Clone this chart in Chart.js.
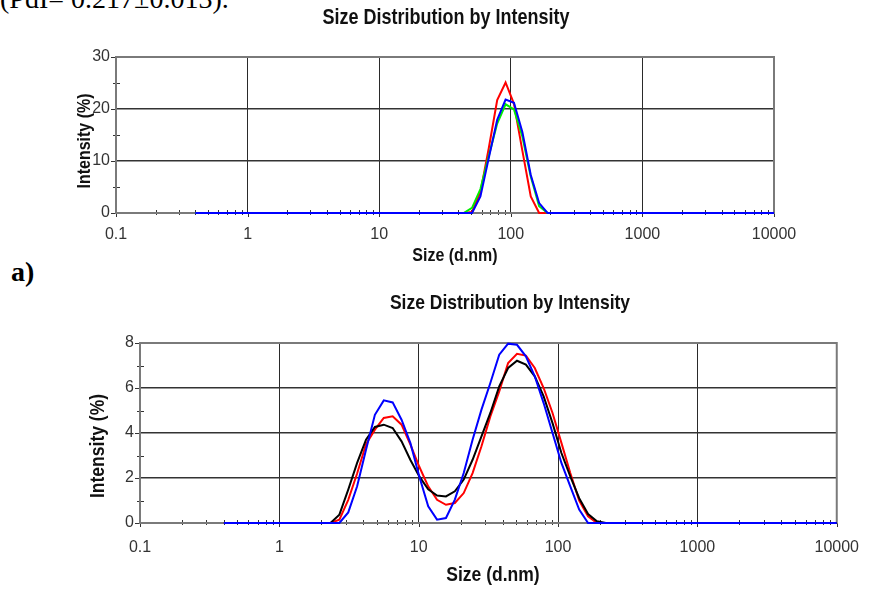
<!DOCTYPE html>
<html>
<head>
<meta charset="utf-8">
<script src="https://cdn.jsdelivr.net/npm/chart.js@4.4.1/dist/chart.umd.min.js"></script>
<style>
  body { margin: 0; width: 874px; height: 594px; background: #fff; position: relative; overflow: hidden; }
  .note { position: absolute; font-family: 'Liberation Serif', 'Times New Roman', serif; color: #000; white-space: nowrap; font-size: 28px; line-height: 28px; }
  #pdi { left: 0; top: -15px; }
  #lab { left: 11px; top: 258px; font-weight: bold; }
  canvas { position: absolute; left: 0; }
  #chartA { top: 0; }
  #chartB { top: 285px; }
</style>
</head>
<body>
<div class="note" id="pdi">(PdI= 0.217±0.013).</div>
<div class="note" id="lab">a)</div>
<canvas id="chartA" width="874" height="275"></canvas>
<canvas id="chartB" width="874" height="309"></canvas>
<script>
// size bins (d.nm), shared by both measurements
const sizes = [
  0.4, 0.4632, 0.5365, 0.6213, 0.7195, 0.8332, 0.9649, 1.117, 1.294, 1.499,
  1.736, 2.01, 2.328, 2.696, 3.122, 3.615, 4.187, 4.849, 5.615, 6.503,
  7.531, 8.721, 10.1, 11.7, 13.54, 15.69, 18.17, 21.04, 24.36, 28.21,
  32.67, 37.84, 43.82, 50.75, 58.77, 68.06, 78.82, 91.28, 105.7, 122.4,
  141.8, 164.2, 190.1, 220.2, 255, 295.3, 342, 396.1, 458.7, 531.2,
  615.1, 712.4, 825, 955.4, 1106, 1281, 1484, 1718, 1990, 2305,
  2669, 3091, 3580, 4145, 4801, 5560, 6439, 7456, 8635, 10000
];

// chart a) intensity (%)
const redA = [
  0, 0, 0, 0, 0, 0, 0, 0, 0, 0,
  0, 0, 0, 0, 0, 0, 0, 0, 0, 0,
  0, 0, 0, 0, 0, 0, 0, 0, 0, 0,
  0, 0, 0, 0.2, 4.0, 12.5, 21.7, 25.1, 21.0, 12.0,
  3.2, 0, 0, 0, 0, 0, 0, 0, 0, 0,
  0, 0, 0, 0, 0, 0, 0, 0, 0, 0,
  0, 0, 0, 0, 0, 0, 0, 0, 0, 0
];
const greenA = [
  0, 0, 0, 0, 0, 0, 0, 0, 0, 0,
  0, 0, 0, 0, 0, 0, 0, 0, 0, 0,
  0, 0, 0, 0, 0, 0, 0, 0, 0, 0,
  0, 0, 0, 1.0, 4.6, 11.0, 17.2, 20.9, 19.9, 14.7,
  7.0, 1.3, 0, 0, 0, 0, 0, 0, 0, 0,
  0, 0, 0, 0, 0, 0, 0, 0, 0, 0,
  0, 0, 0, 0, 0, 0, 0, 0, 0, 0
];
const blueA = [
  0, 0, 0, 0, 0, 0, 0, 0, 0, 0,
  0, 0, 0, 0, 0, 0, 0, 0, 0, 0,
  0, 0, 0, 0, 0, 0, 0, 0, 0, 0,
  0, 0, 0, 0, 3.2, 10.6, 17.9, 21.8, 21.2, 15.6,
  7.3, 1.9, 0, 0, 0, 0, 0, 0, 0, 0,
  0, 0, 0, 0, 0, 0, 0, 0, 0, 0,
  0, 0, 0, 0, 0, 0, 0, 0, 0, 0
];

// chart b) intensity (%)
const redB = [
  0, 0, 0, 0, 0, 0, 0, 0, 0, 0,
  0, 0, 0, 0.15, 1.03, 2.2, 3.5, 4.15, 4.67, 4.74,
  4.37, 3.48, 2.5, 1.63, 1.03, 0.81, 0.89, 1.33, 2.22, 3.41,
  4.74, 5.85, 7.11, 7.52, 7.44, 6.89, 6.0, 4.89, 3.56, 2.22,
  1.0, 0.3, 0, 0, 0, 0, 0, 0, 0, 0,
  0, 0, 0, 0, 0, 0, 0, 0, 0, 0,
  0, 0, 0, 0, 0, 0, 0, 0, 0, 0
];
const blackB = [
  0, 0, 0, 0, 0, 0, 0, 0, 0, 0,
  0, 0, 0, 0.37, 1.48, 2.67, 3.7, 4.27, 4.37, 4.22,
  3.63, 2.8, 2.07, 1.5, 1.22, 1.18, 1.41, 1.93, 2.81, 3.85,
  4.89, 6.07, 6.89, 7.21, 7.04, 6.52, 5.63, 4.44, 3.11, 2.07,
  1.1, 0.4, 0.08, 0, 0, 0, 0, 0, 0, 0,
  0, 0, 0, 0, 0, 0, 0, 0, 0, 0,
  0, 0, 0, 0, 0, 0, 0, 0, 0, 0
];
const blueB = [
  0, 0, 0, 0, 0, 0, 0, 0, 0, 0,
  0, 0, 0, 0, 0.47, 1.63, 3.26, 4.81, 5.45, 5.36,
  4.59, 3.55, 2.07, 0.74, 0.15, 0.22, 1.04, 2.22, 3.7, 5.04,
  6.22, 7.48, 7.97, 7.92, 7.41, 6.52, 5.33, 4.0, 2.67, 1.63,
  0.6, 0, 0, 0, 0, 0, 0, 0, 0, 0,
  0, 0, 0, 0, 0, 0, 0, 0, 0, 0,
  0, 0, 0, 0, 0, 0, 0, 0, 0, 0
];

const decadeTicks = [0.1, 1, 10, 100, 1000, 10000];
const yTicksA = [0, 10, 20, 30];
const yMinorA = [5, 15, 25];
const yTicksB = [0, 2, 4, 6, 8];
const yMinorB = [1, 3, 5, 7];

const SANS = "'Liberation Sans', Arial, sans-serif";

// frame, minor ticks and the stretched report-style texts
const decorPlugin = {
  id: 'decor',
  beforeDatasetsDraw(chart, args, o) {
    const { ctx, chartArea: a, scales: { x, y } } = chart;
    ctx.save();
    ctx.strokeStyle = '#333';
    ctx.lineWidth = 1;
    ctx.beginPath();
    for (let i = 0; i < decadeTicks.length - 1; i++) {
      for (let k = 2; k <= 9; k++) {
        const px = Math.round(x.getPixelForValue(decadeTicks[i] * k)) + 0.5;
        ctx.moveTo(px, a.bottom - 3);
        ctx.lineTo(px, a.bottom + 2);
      }
    }
    decadeTicks.forEach(v => {
      const px = Math.round(x.getPixelForValue(v)) + 0.5;
      ctx.moveTo(px, a.bottom);
      ctx.lineTo(px, a.bottom + 4);
    });
    o.yMinor.forEach(v => {
      const py = Math.round(y.getPixelForValue(v)) + 0.5;
      ctx.moveTo(a.left - 3, py);
      ctx.lineTo(a.left + 4, py);
    });
    o.yTicks.forEach(v => {
      const py = Math.round(y.getPixelForValue(v)) + 0.5;
      ctx.moveTo(a.left - 5, py);
      ctx.lineTo(a.left, py);
    });
    ctx.stroke();
    ctx.strokeStyle = '#7a7a7a';
    ctx.lineWidth = 2;
    ctx.strokeRect(a.left, a.top, a.right - a.left, a.bottom - a.top);
    ctx.restore();
  },
  afterDraw(chart, args, o) {
    const { ctx } = chart;
    const text = (t, cx, cy, size, sy, rot) => {
      ctx.save();
      ctx.translate(cx, cy);
      if (rot) ctx.rotate(-Math.PI / 2);
      ctx.scale(1, sy);
      ctx.font = 'bold ' + size + 'px ' + SANS;
      ctx.fillStyle = '#111';
      ctx.textAlign = 'center';
      ctx.textBaseline = 'middle';
      ctx.fillText(t, 0, 0);
      ctx.restore();
    };
    text(o.title, o.titleX, o.titleY, o.titleSize, 1.2, false);
    text(o.xTitle, o.xTitleX, o.xTitleY, o.axisSize, 1.15, false);
    text(o.yTitle, o.yTitleX, o.yTitleY, o.axisSize, 1.15, true);
  }
};

function line(label, data, color) {
  return {
    label: label,
    data: sizes.map((s, i) => ({ x: s, y: data[i] })),
    borderColor: color,
    backgroundColor: color,
    borderWidth: 2,
    pointRadius: 0,
    tension: 0,
    clip: 6
  };
}

function makeChart(id, datasets, cfg) {
  const canvas = document.getElementById(id);
  return new Chart(canvas, {
    type: 'line',
    data: { datasets: datasets },
    plugins: [decorPlugin],
    options: {
      responsive: false,
      animation: false,
      events: [],
      layout: { padding: { left: 0, right: cfg.padRight, top: cfg.padTop, bottom: 0 } },
      plugins: {
        legend: { display: false },
        tooltip: { enabled: false },
        decor: cfg.decor
      },
      scales: {
        x: {
          type: 'logarithmic',
          min: 0.1,
          max: 10000,
          afterBuildTicks: s => { s.ticks = decadeTicks.map(v => ({ value: v })); },
          afterFit: s => { s.height = cfg.xHeight; },
          border: { display: false },
          grid: { color: '#2a2a2a', lineWidth: 1, drawTicks: false },
          ticks: {
            autoSkip: false,
            maxRotation: 0,
            padding: cfg.xPad,
            color: '#333',
            font: { family: SANS, size: 16 },
            callback: v => String(v)
          }
        },
        y: {
          type: 'linear',
          min: 0,
          max: cfg.yMax,
          afterBuildTicks: s => { s.ticks = cfg.decor.yTicks.map(v => ({ value: v })); },
          afterFit: s => { s.width = cfg.yWidth; },
          border: { display: false },
          grid: {
            drawTicks: false,
            lineWidth: 1.5,
            color: c => (c.tick && c.tick.value === 0) ? 'rgba(0,0,0,0)' : '#333'
          },
          ticks: {
            padding: 6,
            color: '#333',
            font: { family: SANS, size: 16 }
          }
        }
      }
    }
  });
}

makeChart('chartA', [
  line('Record 3', blueA, '#0000ff'),
  line('Record 2', greenA, '#00ee00'),
  line('Record 1', redA, '#ff0000')
], {
  padRight: 100, padTop: 57, xHeight: 62, xPad: 12, yWidth: 116, yMax: 30,
  decor: {
    yTicks: yTicksA, yMinor: yMinorA,
    title: 'Size Distribution by Intensity', titleX: 446, titleY: 18, titleSize: 18,
    xTitle: 'Size (d.nm)', xTitleX: 455, xTitleY: 256,
    yTitle: 'Intensity (%)', yTitleX: 85, yTitleY: 141, axisSize: 16
  }
});

makeChart('chartB', [
  line('Record 3', blueB, '#0000ff'),
  line('Record 2', blackB, '#000000'),
  line('Record 1', redB, '#ff0000')
], {
  padRight: 32, padTop: 58, xHeight: 71, xPad: 15, yWidth: 140, yMax: 8,
  decor: {
    yTicks: yTicksB, yMinor: yMinorB,
    title: 'Size Distribution by Intensity', titleX: 510, titleY: 18, titleSize: 17.5,
    xTitle: 'Size (d.nm)', xTitleX: 493, xTitleY: 290,
    yTitle: 'Intensity (%)', yTitleX: 98, yTitleY: 161, axisSize: 17.5
  }
});
</script>
</body>
</html>
